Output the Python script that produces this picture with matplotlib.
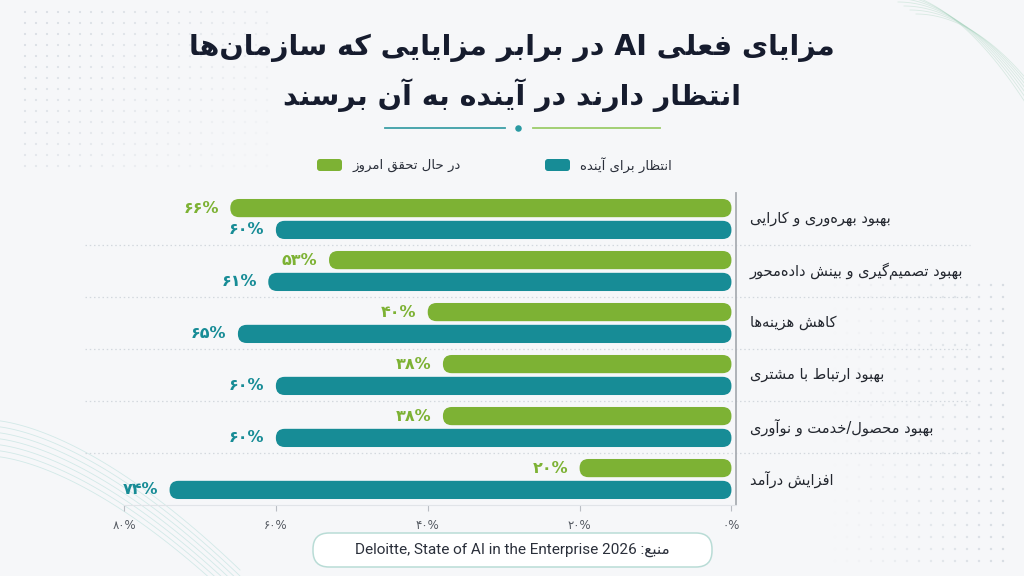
import numpy as np
import matplotlib
matplotlib.use('Agg')
import matplotlib.pyplot as plt
from matplotlib.patches import FancyBboxPatch

# data
categories = [
    'بهبود بهره‌وری و کارایی',
    'بهبود تصمیم‌گیری و بینش داده‌محور',
    'کاهش هزینه‌ها',
    'بهبود ارتباط با مشتری',
    'بهبود محصول/خدمت و نوآوری',
    'افزایش درآمد',
]
today = [66, 53, 40, 38, 38, 20]
future = [60, 61, 65, 60, 60, 74]
xticks = [80, 60, 40, 20, 0]

title1 = 'مزایای فعلی AI در برابر مزایایی که سازمان‌ها'
title2 = 'انتظار دارند در آینده به آن برسند'
legend_today = 'در حال تحقق امروز'
legend_future = 'انتظار برای آینده'
source = 'منبع: Deloitte, State of AI in the Enterprise 2026'

GREEN = '#7db234'
TEAL = '#178c96'
BG = '#f6f7f9'

# --- tiny persian shaper (matplotlib has no complex text layout) ---
FORMS = {
    'آ': (0xFE81, 2), 'ا': (0xFE8D, 2), 'ب': (0xFE8F, 4), 'پ': (0xFB56, 4),
    'ت': (0xFE95, 4), 'ث': (0xFE99, 4), 'ج': (0xFE9D, 4), 'چ': (0xFB7A, 4),
    'ح': (0xFEA1, 4), 'خ': (0xFEA5, 4), 'د': (0xFEA9, 2), 'ذ': (0xFEAB, 2),
    'ر': (0xFEAD, 2), 'ز': (0xFEAF, 2), 'ژ': (0xFB8A, 2), 'س': (0xFEB1, 4),
    'ش': (0xFEB5, 4), 'ص': (0xFEB9, 4), 'ض': (0xFEBD, 4), 'ط': (0xFEC1, 4),
    'ظ': (0xFEC5, 4), 'ع': (0xFEC9, 4), 'غ': (0xFECD, 4), 'ف': (0xFED1, 4),
    'ق': (0xFED5, 4), 'ک': (0xFB8E, 4), 'گ': (0xFB92, 4), 'ل': (0xFEDD, 4),
    'م': (0xFEE1, 4), 'ن': (0xFEE5, 4), 'و': (0xFEED, 2), 'ه': (0xFEE9, 4),
    'ی': (0xFBFC, 4), 'ئ': (0xFE89, 4),
}
ZWNJ = '\u200c'


def shape_word(w):
    w = w.replace('ي', 'ی').replace('ك', 'ک')
    chars = list(w)
    out = []
    for i, c in enumerate(chars):
        if c not in FORMS:
            if c != ZWNJ:
                out.append(c)
            continue
        base, nf = FORMS[c]
        prev = chars[i - 1] if i > 0 else None
        nxt = chars[i + 1] if i < len(chars) - 1 else None
        jp = prev in FORMS and FORMS[prev][1] == 4
        jn = nf == 4 and nxt in FORMS
        k = 3 if (jp and jn) else 1 if jp else 2 if jn else 0
        out.append(chr(base + k))
    return ''.join(reversed(out))


def fa(text):
    runs = []
    for tok in text.split(' '):
        if any(c in FORMS for c in tok):
            runs.append([True, shape_word(tok)])
        elif runs and not runs[-1][0]:
            runs[-1][1] += ' ' + tok
        else:
            runs.append([False, tok])
    return ' '.join(r[1] for r in reversed(runs))


def fa_num(v):
    return str(v).translate(str.maketrans('0123456789', '۰۱۲۳۴۵۶۷۸۹')) + '%'


AR = ['DejaVu Sans']
W, H = 1024, 576

fig = plt.figure(figsize=(10.24, 5.76), dpi=100, facecolor=BG)

# background decoration layer (pixel coords)
bg = fig.add_axes([0, 0, 1, 1])
bg.set_xlim(0, W)
bg.set_ylim(H, 0)
bg.axis('off')
gx, gy = np.meshgrid(np.arange(25, 270, 11), np.arange(12, 175, 11))
fade = np.clip(1.2 - (gx + gy) / 380, 0.15, 1).ravel()
bg.scatter(gx.ravel(), gy.ravel(), s=2.5, color='#d9dee4', alpha=fade, lw=0)
gx, gy = np.meshgrid(np.arange(835, 1015, 12), np.arange(285, 572, 12))
fade = np.clip((gx - 830) / 180, 0, 1).ravel()
bg.scatter(gx.ravel(), gy.ravel(), s=3, color='#d6dbe1', alpha=fade, lw=0)
t = np.linspace(0, 1, 60)
for k in range(7):
    bg.plot(880 + 150 * t + k * 6, -10 + 120 * t ** 2 + k * 4, color='#9fd0b8', lw=0.6, alpha=0.35)
    bg.plot(-10 + 250 * t, 420 + 150 * t ** 1.6 + k * 6, color='#8fcfc8', lw=0.6, alpha=0.35)

# title
fig.text(0.5, 1 - 48 / H, fa(title1), ha='center', va='center', fontsize=20.5,
         fontweight='bold', color='#161c2e', family=AR)
fig.text(0.5, 1 - 95 / H, fa(title2), ha='center', va='center', fontsize=20.5,
         fontweight='bold', color='#161c2e', family=AR)
bg.plot([385, 505], [128, 128], color='#3c9fa6', lw=1.3)
bg.plot([533, 660], [128, 128], color='#9ccc6a', lw=1.3)
bg.scatter([518], [128], s=22, color='#2a9aa2', lw=0)

# legend
for x0, col, lab in [(317, GREEN, legend_today), (545, TEAL, legend_future)]:
    bg.add_patch(FancyBboxPatch((x0, 159), 25, 12, boxstyle='round,pad=0,rounding_size=3',
                                fc=col, ec='none'))
    bg.text(x0 + 35, 165, fa(lab), ha='left', va='center', fontsize=9.5,
            color='#2a2f3a', family=AR)

# main chart
ax = fig.add_axes([124 / W, 1 - 505 / H, 612 / W, 312 / H])
ax.set_facecolor('none')
ax.set_xlim(80, -0.6)
ax.set_ylim(len(categories) - 0.5, -0.5)

y = np.arange(len(categories))
h = 0.35
off = 0.21
asp = (612 / 80.6) / 52.0
r = 1.17
for vals, col, dy in [(today, GREEN, -off), (future, TEAL, off)]:
    bars = ax.barh(y + dy, vals, height=h, color=col)
    for rect, v in zip(bars, vals):
        p = FancyBboxPatch((rect.get_x(), rect.get_y()), rect.get_width(), rect.get_height(),
                           boxstyle=f'round,pad=0,rounding_size={r}', mutation_aspect=asp,
                           fc=col, ec='none')
        rect.remove()
        ax.add_patch(p)
        ax.text(v + 1.5, rect.get_y() + h / 2, fa_num(v), ha='right', va='center',
                fontsize=11.5, fontweight='bold', color=col, family=AR)

for i, cat in enumerate(categories):
    ax.text(1.023, i, fa(cat), transform=ax.get_yaxis_transform(), ha='left', va='center',
            fontsize=10.5, color='#23272f', family=AR)

for sep in np.arange(0.5, len(categories) - 0.5, 1):
    ax.plot([85.1, -31.4], [sep, sep], color='#d3d8de', lw=0.9, ls=(0, (1.2, 2.2)),
            clip_on=False)

for s in ['top', 'left']:
    ax.spines[s].set_visible(False)
ax.spines['right'].set_color('#a9adb3')
ax.spines['right'].set_linewidth(1.3)
ax.spines['bottom'].set_color('#e1e4e8')
ax.set_yticks([])
ax.set_xticks(xticks)
ax.set_xticklabels([fa_num(v) for v in xticks], family=AR)
ax.tick_params(axis='x', length=4, color='#b9bdc3', labelsize=8.5, labelcolor='#555a62', pad=6)

# source box
bg.add_patch(FancyBboxPatch((313, 533), 399, 34, boxstyle='round,pad=0,rounding_size=16',
                            fc='#ffffff', ec='#b9dcd6', lw=1.1))
bg.text(512, 550, fa(source), ha='center', va='center', fontsize=11,
        color='#2a2f3a', family=['Roboto', 'DejaVu Sans'])

fig.savefig('out.png', dpi=100, facecolor=BG)
